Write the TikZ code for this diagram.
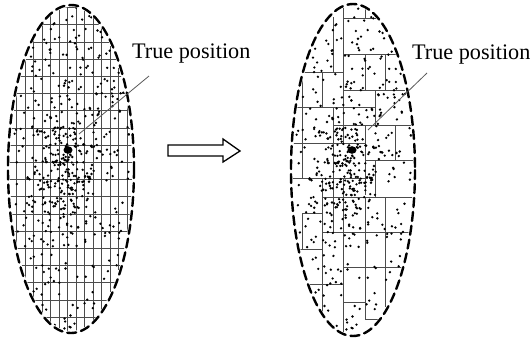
\documentclass[tikz,border=0pt]{standalone}
\usepackage{fontspec}
\setmainfont{Liberation Serif}
\usetikzlibrary{positioning}
\tikzset{
  rim/.style={
    line width=2.4pt,
    dash pattern=on 9pt off 5pt,
    line cap=round
  },
  cell/.style={
    black!70,
    line width=0.8pt
  },
  pointer/.style={
    black!65,
    line width=0.8pt
  },
  tag/.style={
    anchor=base west,
    inner sep=0pt,
    font=\fontsize{22.2}{26}\selectfont
  },
  hollow/.style={
    draw,
    fill=white,
    line width=1.3pt,
    line join=miter
  }
}
% same sample set in both panels
\newcommand{\spreaddots}{%
  \pgfmathsetseed{4711}%
  \foreach \i in {1,...,290}{%
    \pgfmathsetmacro{\ang}{360*rnd}%
    \pgfmathsetmacro{\rad}{sqrt(rnd)}%
    \pgfmathsetmacro{\px}{\rad*60*cos(\ang)}%
    \pgfmathsetmacro{\py}{\rad*162*sin(\ang)}%
    \fill (\px,\py) circle (1.3);
  }%
  \foreach \i in {1,...,210}{%
    \pgfmathsetmacro{\px}{-8+32*(rnd+rnd+rnd-1.5)}%
    \pgfmathsetmacro{\py}{-4+64*(rnd+rnd+rnd-1.5)}%
    \fill (\px,\py) circle (1.3);
  }%
}
\begin{document}
\begin{tikzpicture}[x=1pt,y=-1pt]
  \useasboundingbox (0,0) rectangle (531,343);
  % left panel, regular grid
  \begin{scope}
    \clip (71,169) ellipse (61 and 162);
    \foreach \k in {0,...,13}
      \draw[cell] (16.8+8.5*\k,0) -- (16.8+8.5*\k,343);
    \foreach \k in {0,...,19}
      \draw[cell] (0,7.5+17.2*\k) -- (140,7.5+17.2*\k);
    \begin{scope}[shift={(71,169)}]
      \spreaddots
    \end{scope}
  \end{scope}
  \draw[rim] (71,169) ellipse (63 and 164);
  % right panel, adaptive cells
  \begin{scope}
    \clip (353,170) ellipse (60 and 164);
    \foreach \x/\ya/\yb in {343/0/143, 343/178/343, 365/0/18, 333/17/72,
        333/107/232, 365/54/90, 385/54/90, 322/72/107, 302/72/178,
        375/90/125, 365/125/195, 395/125/160, 375/160/197, 322/178/330,
        385/197/307, 365/197/320, 302/213/250}
      \draw[cell] (\x,\ya) -- (\x,\yb);
    \foreach \y/\xa/\xb in {18/343/382, 54/343/400, 72/302/343, 90/343/405,
        107/293/375, 125/333/418, 143/292/365, 160/365/418, 178/292/365,
        197/322/415, 213/302/322, 232/322/413, 249/300/322, 267/343/403,
        284/310/343, 302/343/365, 319/365/380}
      \draw[cell] (\xa,\y) -- (\xb,\y);
    \begin{scope}[shift={(353,170)}]
      \spreaddots
    \end{scope}
  \end{scope}
  \draw[rim] (353,170) ellipse (62 and 166);

  \coordinate (trueL) at (68,150);
  \coordinate (trueR) at (352,150);
  \fill (trueL) ellipse (4.5 and 3.8);
  \fill (trueR) ellipse (4.5 and 3.8);

  \node[tag] (lblL) at (132,58) {True position};
  \node[tag] (lblR) at (412,59) {True position};
  \coordinate (tailL) at (149,76);
  \coordinate (endL) at (79,134);
  \coordinate (tailR) at (427,73);
  \coordinate (endR) at (368,130);
  \draw[pointer] (tailL) -- (endL);
  \draw[pointer] (tailR) -- (endR);

  \draw[hollow] (168,145) -- (223,145) -- (223,139) -- (240,151)
    -- (223,162) -- (223,156) -- (168,156) -- cycle;
\end{tikzpicture}
\end{document}
